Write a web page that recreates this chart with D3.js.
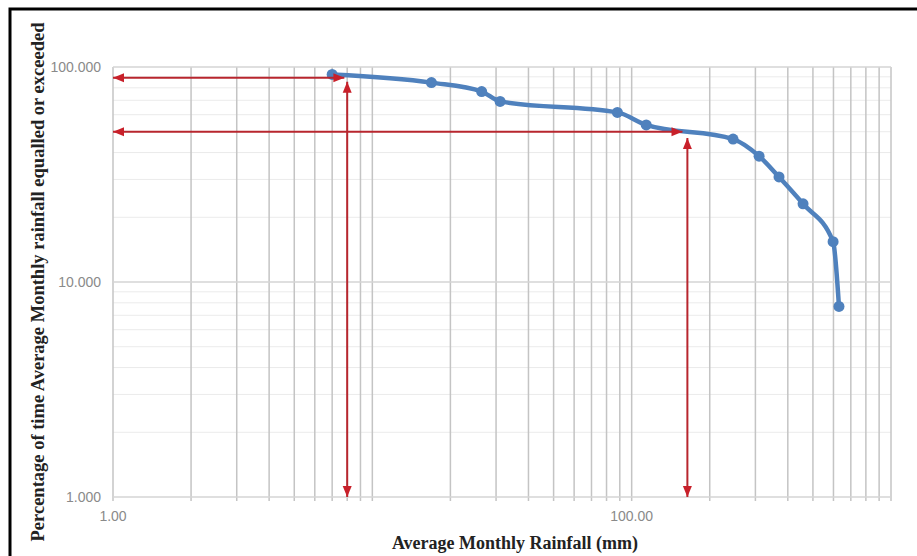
<!DOCTYPE html>
<html>
<head>
<meta charset="utf-8">
<script src="https://cdn.jsdelivr.net/npm/d3@7"></script>
<style>
  body { margin: 0; background: #fff; }
  svg { display: block; }
</style>
</head>
<body>
<div id="chart"></div>
<script>
// rainfall (mm) vs percentage of time equalled or exceeded
const rainfall = [7.0, 16.9, 26.4, 31.1, 88.1, 113.8, 246, 310, 370, 458, 598, 630];
const percent = [92.3, 84.6, 76.9, 69.2, 61.5, 53.8, 46.2, 38.5, 30.8, 23.1, 15.4, 7.7];

// red reading arrows, [rain, pct] at both ends
const arrowFrom = [[7.8, 89.2], [8.0, 85.5], [157, 50.0], [164, 46.8]];
const arrowTo = [[1, 89.2], [8.0, 1], [1, 50.0], [164, 1]];

const xTickVals = [1, 100];
const yTickVals = [1, 10, 100];

const W = 917, H = 556;
const margin = { top: 67, right: 26, bottom: 59, left: 113 };

const svg = d3.select("#chart").append("svg")
    .attr("width", W)
    .attr("height", H);

svg.append("rect").attr("width", W).attr("height", H).attr("fill", "#fff");

// outer frame
svg.append("rect")
    .attr("x", 10).attr("y", 9)
    .attr("width", W + 20).attr("height", H + 20)
    .attr("fill", "none")
    .attr("stroke", "#000")
    .attr("stroke-width", 3);

const x = d3.scaleLog().domain([1, 1000]).range([margin.left, W - margin.right]);
const y = d3.scaleLog().domain([1, 100]).range([H - margin.bottom, margin.top]);

const defs = svg.append("defs");
defs.append("marker")
    .attr("id", "head")
    .attr("markerUnits", "userSpaceOnUse")
    .attr("markerWidth", 12)
    .attr("markerHeight", 12)
    .attr("viewBox", "0 0 12 12")
    .attr("refX", 11)
    .attr("refY", 6)
    .attr("orient", "auto-start-reverse")
    .append("path")
    .attr("d", "M0,1.5 L11,6 L0,10.5 Z")
    .attr("fill", "#c8202a");

const grid = svg.append("g");

// horizontal grid lines (minor first, then major)
const yMinor = [];
for (let k = 0; k < 2; k++) for (let m = 2; m <= 9; m++) yMinor.push(m * Math.pow(10, k));
grid.selectAll("line.ymin").data(yMinor).join("line")
    .attr("class", "ymin")
    .attr("x1", x(1)).attr("x2", x(1000))
    .attr("y1", d => y(d)).attr("y2", d => y(d))
    .attr("stroke", "#ebebeb")
    .attr("stroke-width", 1);

// vertical grid lines, running a little under the axis as ticks
const xLines = [];
for (let k = 0; k < 3; k++) for (let m = 1; m <= 9; m++) xLines.push(m * Math.pow(10, k));
xLines.push(1000);
grid.selectAll("line.xg").data(xLines).join("line")
    .attr("class", "xg")
    .attr("x1", d => x(d)).attr("x2", d => x(d))
    .attr("y1", y(100)).attr("y2", y(1) + 4)
    .attr("stroke", "#c4c4c4")
    .attr("stroke-width", 1.5);

grid.selectAll("line.ymaj").data(yTickVals).join("line")
    .attr("class", "ymaj")
    .attr("x1", x(1)).attr("x2", x(1000))
    .attr("y1", d => y(d)).attr("y2", d => y(d))
    .attr("stroke", "#d4d4d4")
    .attr("stroke-width", 1.5);

// tick labels
svg.append("g").selectAll("text").data(yTickVals).join("text")
    .attr("x", x(1) - 12)
    .attr("y", d => y(d))
    .attr("dy", "0.35em")
    .attr("text-anchor", "end")
    .attr("font-family", "'Liberation Sans', Arial, sans-serif")
    .attr("font-size", 14)
    .attr("fill", "#8a8a8a")
    .text(d => d3.format(".3f")(d));

svg.append("g").selectAll("text").data(xTickVals).join("text")
    .attr("x", d => x(d))
    .attr("y", y(1) + 24)
    .attr("text-anchor", "middle")
    .attr("font-family", "'Liberation Sans', Arial, sans-serif")
    .attr("font-size", 14)
    .attr("fill", "#8a8a8a")
    .text(d => d3.format(".2f")(d));

// axis titles
svg.append("text")
    .attr("x", 515)
    .attr("y", 549)
    .attr("text-anchor", "middle")
    .attr("font-family", "'Liberation Serif', 'Times New Roman', serif")
    .attr("font-weight", "bold")
    .attr("font-size", 18)
    .attr("fill", "#222")
    .text("Average Monthly Rainfall (mm)");

svg.append("text")
    .attr("transform", "translate(44,282) rotate(-90)")
    .attr("text-anchor", "middle")
    .attr("font-family", "'Liberation Serif', 'Times New Roman', serif")
    .attr("font-weight", "bold")
    .attr("font-size", 18.5)
    .attr("fill", "#222")
    .text("Percentage of time Average Monthly rainfall equalled or exceeded");

// data series
const pts = rainfall.map((r, i) => [r, percent[i]]);
const line = d3.line()
    .curve(d3.curveMonotoneX)
    .x(d => x(d[0]))
    .y(d => y(d[1]));

svg.append("path")
    .attr("d", line(pts))
    .attr("fill", "none")
    .attr("stroke", "#4f81bd")
    .attr("stroke-width", 4.5)
    .attr("stroke-linejoin", "round")
    .attr("stroke-linecap", "round");

svg.append("g").selectAll("circle").data(pts).join("circle")
    .attr("cx", d => x(d[0]))
    .attr("cy", d => y(d[1]))
    .attr("r", 5.5)
    .attr("fill", "#4f81bd");

// red reading arrows
svg.append("g").selectAll("line").data(arrowFrom).join("line")
    .attr("x1", d => x(d[0])).attr("y1", d => y(d[1]))
    .attr("x2", (d, i) => x(arrowTo[i][0])).attr("y2", (d, i) => y(arrowTo[i][1]))
    .attr("stroke", "#b8262e")
    .attr("stroke-width", 2)
    .attr("marker-start", "url(#head)")
    .attr("marker-end", "url(#head)");
</script>
</body>
</html>
